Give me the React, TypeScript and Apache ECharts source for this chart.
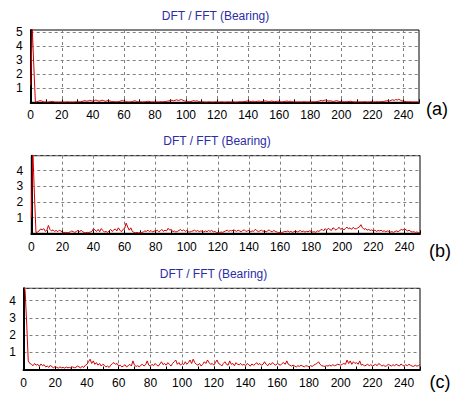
import React, { useEffect, useRef } from "react";
import * as echarts from "echarts";

const titleText = "DFT / FFT (Bearing)";
const panelLabels = ["(a)", "(b)", "(c)"];
const xTicks = [0, 20, 40, 60, 80, 100, 120, 140, 160, 180, 200, 220, 240];
const yTicksA = [1, 2, 3, 4, 5];
const yTicksB = [1, 2, 3, 4];
const yTicksC = [1, 2, 3, 4];

// amplitude per 1 Hz bin, 0..250
const ampA = [
  1.2, 5.3, 2.6, 0.02, 0.03, 0.08, 0.12, 0.1, 0.04, 0.02,
  0.02, 0.01, 0.03, 0.05, 0.07, 0.03, 0.01, 0.02, 0.01, 0.02,
  0.01, 0.02, 0.01, 0.02, 0.03, 0.01, 0.02, 0.01, 0.02, 0.03,
  0.02, 0.03, 0.04, 0.06, 0.09, 0.12, 0.08, 0.1, 0.14, 0.11,
  0.09, 0.13, 0.16, 0.12, 0.08, 0.11, 0.15, 0.12, 0.07, 0.1,
  0.13, 0.09, 0.06, 0.04, 0.05, 0.03, 0.04, 0.06, 0.1, 0.12,
  0.08, 0.04, 0.03, 0.02, 0.03, 0.05, 0.08, 0.11, 0.07, 0.03,
  0.02, 0.03, 0.02, 0.03, 0.04, 0.06, 0.08, 0.04, 0.02, 0.03,
  0.02, 0.03, 0.02, 0.03, 0.04, 0.03, 0.05, 0.06, 0.08, 0.1,
  0.12, 0.15, 0.11, 0.14, 0.18, 0.13, 0.16, 0.2, 0.14, 0.1,
  0.07, 0.05, 0.04, 0.06, 0.09, 0.12, 0.08, 0.11, 0.06, 0.03,
  0.02, 0.03, 0.02, 0.01, 0.02, 0.03, 0.02, 0.01, 0.02, 0.03,
  0.02, 0.01, 0.02, 0.03, 0.02, 0.01, 0.02, 0.03, 0.02, 0.02,
  0.03, 0.02, 0.01, 0.02, 0.03, 0.04, 0.03, 0.05, 0.06, 0.08,
  0.1, 0.07, 0.05, 0.08, 0.06, 0.04, 0.07, 0.09, 0.06, 0.05,
  0.07, 0.1, 0.08, 0.05, 0.06, 0.09, 0.07, 0.05, 0.06, 0.08,
  0.06, 0.04, 0.03, 0.05, 0.07, 0.09, 0.06, 0.08, 0.05, 0.03,
  0.02, 0.03, 0.02, 0.03, 0.02, 0.03, 0.04, 0.03, 0.02, 0.03,
  0.02, 0.03, 0.04, 0.03, 0.05, 0.07, 0.1, 0.13, 0.1, 0.14,
  0.16, 0.12, 0.09, 0.11, 0.08, 0.06, 0.09, 0.12, 0.08, 0.05,
  0.04, 0.03, 0.04, 0.03, 0.05, 0.06, 0.08, 0.05, 0.03, 0.02,
  0.03, 0.02, 0.03, 0.02, 0.03, 0.04, 0.03, 0.02, 0.03, 0.04,
  0.03, 0.02, 0.03, 0.04, 0.03, 0.04, 0.05, 0.06, 0.08, 0.1,
  0.12, 0.09, 0.14, 0.18, 0.13, 0.2, 0.16, 0.22, 0.15, 0.1,
  0.08, 0.06, 0.04, 0.03, 0.04, 0.03, 0.02, 0.03, 0.02, 0.03, 0.02,
];

const ampB = [
  1.0, 5.2, 2.5, 0.05, 0.08, 0.15, 0.28, 0.22, 0.3, 0.12,
  0.2, 0.5, 0.25, 0.15, 0.22, 0.12, 0.18, 0.1, 0.2, 0.15,
  0.08, 0.05, 0.06, 0.04, 0.05, 0.08, 0.15, 0.1, 0.06, 0.12,
  0.18, 0.08, 0.2, 0.1, 0.05, 0.04, 0.06, 0.05, 0.08, 0.12,
  0.3, 0.2, 0.12, 0.25, 0.1, 0.3, 0.18, 0.08, 0.12, 0.06,
  0.15, 0.25, 0.12, 0.2, 0.28, 0.15, 0.35, 0.2, 0.1, 0.25,
  0.3, 0.65, 0.4, 0.2, 0.35, 0.12, 0.06, 0.04, 0.05, 0.03,
  0.04, 0.05, 0.08, 0.15, 0.12, 0.2, 0.1, 0.18, 0.08, 0.15,
  0.12, 0.2, 0.1, 0.15, 0.25, 0.12, 0.2, 0.15, 0.32, 0.2,
  0.25, 0.1, 0.15, 0.08, 0.12, 0.18, 0.25, 0.15, 0.22, 0.12,
  0.18, 0.1, 0.08, 0.12, 0.15, 0.2, 0.12, 0.18, 0.1, 0.15,
  0.12, 0.08, 0.15, 0.1, 0.18, 0.12, 0.2, 0.08, 0.12, 0.06,
  0.05, 0.04, 0.08, 0.06, 0.1, 0.15, 0.2, 0.12, 0.18, 0.15,
  0.22, 0.18, 0.12, 0.2, 0.15, 0.1, 0.18, 0.22, 0.12, 0.15,
  0.2, 0.1, 0.15, 0.12, 0.25, 0.18, 0.1, 0.15, 0.2, 0.12,
  0.18, 0.08, 0.15, 0.22, 0.12, 0.1, 0.18, 0.12, 0.08, 0.05,
  0.06, 0.04, 0.08, 0.12, 0.1, 0.15, 0.08, 0.12, 0.06, 0.1,
  0.15, 0.08, 0.12, 0.18, 0.1, 0.14, 0.08, 0.12, 0.1, 0.15,
  0.12, 0.08, 0.1, 0.06, 0.15, 0.12, 0.2, 0.25, 0.15, 0.3,
  0.2, 0.32, 0.25, 0.18, 0.35, 0.28, 0.2, 0.3, 0.38, 0.25,
  0.32, 0.22, 0.3, 0.4, 0.28, 0.35, 0.25, 0.38, 0.3, 0.28,
  0.35, 0.4, 0.55, 0.35, 0.25, 0.3, 0.2, 0.25, 0.18, 0.22,
  0.15, 0.2, 0.12, 0.18, 0.15, 0.2, 0.12, 0.16, 0.1, 0.15,
  0.12, 0.08, 0.1, 0.06, 0.12, 0.15, 0.1, 0.18, 0.25, 0.2,
  0.28, 0.22, 0.15, 0.2, 0.12, 0.08, 0.1, 0.06, 0.08, 0.05, 0.04,
];

const ampC = [
  5.0, 4.6, 2.7, 0.5, 0.35, 0.3, 0.22, 0.35, 0.25, 0.3,
  0.18, 0.32, 0.22, 0.28, 0.15, 0.2, 0.12, 0.25, 0.15, 0.1,
  0.18, 0.12, 0.08, 0.15, 0.1, 0.12, 0.08, 0.14, 0.1, 0.12,
  0.08, 0.15, 0.1, 0.12, 0.2, 0.15, 0.1, 0.18, 0.12, 0.25,
  0.3, 0.45, 0.6, 0.35, 0.5, 0.3, 0.4, 0.25, 0.35, 0.2,
  0.3, 0.25, 0.15, 0.2, 0.12, 0.25, 0.35, 0.4, 0.3, 0.35,
  0.2, 0.25, 0.15, 0.2, 0.28, 0.15, 0.22, 0.3, 0.2, 0.5,
  0.25, 0.18, 0.22, 0.15, 0.25, 0.3, 0.2, 0.28, 0.5, 0.25,
  0.2, 0.3, 0.22, 0.35, 0.25, 0.2, 0.32, 0.45, 0.28, 0.35,
  0.25, 0.4, 0.3, 0.2, 0.35, 0.45, 0.55, 0.3, 0.4, 0.25,
  0.35, 0.28, 0.45, 0.3, 0.4, 0.55, 0.35, 0.6, 0.4, 0.3,
  0.25, 0.35, 0.2, 0.3, 0.45, 0.35, 0.55, 0.4, 0.3, 0.35,
  0.25, 0.4, 0.55, 0.35, 0.3, 0.2, 0.35, 0.45, 0.3, 0.25,
  0.5, 0.3, 0.35, 0.22, 0.4, 0.3, 0.28, 0.35, 0.25, 0.3,
  0.22, 0.35, 0.28, 0.2, 0.32, 0.25, 0.3, 0.4, 0.28, 0.35,
  0.25, 0.3, 0.45, 0.3, 0.22, 0.35, 0.28, 0.4, 0.3, 0.25,
  0.35, 0.3, 0.25, 0.35, 0.4, 0.3, 0.5, 0.3, 0.25, 0.2,
  0.25, 0.2, 0.15, 0.22, 0.18, 0.25, 0.2, 0.15, 0.22, 0.2,
  0.15, 0.22, 0.18, 0.25, 0.3, 0.35, 0.45, 0.3, 0.22, 0.2,
  0.18, 0.22, 0.2, 0.25, 0.2, 0.28, 0.22, 0.25, 0.3, 0.28,
  0.25, 0.3, 0.35, 0.3, 0.55, 0.35, 0.5, 0.3, 0.45, 0.35,
  0.4, 0.3, 0.5, 0.25, 0.3, 0.2, 0.25, 0.3, 0.22, 0.28,
  0.2, 0.25, 0.3, 0.22, 0.35, 0.28, 0.2, 0.25, 0.18, 0.22,
  0.3, 0.25, 0.2, 0.28, 0.22, 0.3, 0.25, 0.2, 0.32, 0.25,
  0.2, 0.28, 0.22, 0.3, 0.25, 0.2, 0.18, 0.25, 0.2, 0.22, 0.3,
];

const FONT = 'Arial, "Liberation Sans", sans-serif';

export default function App() {
  const ref = useRef<HTMLDivElement>(null);
  useEffect(() => {
    if (!ref.current) return;
    const chart = echarts.init(ref.current, null, { renderer: "svg" });

    const grids = [
      { left: 30.7, top: 30, width: 388.3, height: 72.3, ymax: 5.16, yt: yTicksA, xm: 7, ym: 8 },
      { left: 31.3, top: 155.7, width: 388.7, height: 77.6, ymax: 4.95, yt: yTicksB, xm: 8, ym: 8 },
      { left: 23.5, top: 288.3, width: 396.5, height: 81.2, ymax: 4.72, yt: yTicksC, xm: 7, ym: 7.5 },
    ];
    const amps = [ampA, ampB, ampC];
    const titlePos = [
      [215.5, 15.7],
      [217, 141],
      [213.5, 274],
    ];
    const labelPos = [
      [437, 109],
      [440, 251],
      [440, 382],
    ];

    chart.setOption({
      animation: false,
      backgroundColor: "#fff",
      grid: grids.map((g) => ({
        left: g.left,
        top: g.top,
        width: g.width,
        height: g.height,
        show: true,
        borderColor: "#000",
        borderWidth: 1,
        backgroundColor: "#fff",
      })),
      xAxis: grids.map((g, i) => ({
        type: "value",
        gridIndex: i,
        min: 0,
        max: 250,
        interval: 20,
        axisLine: { show: true, onZero: false, lineStyle: { color: "#000", width: 2 } },
        axisTick: { show: true, inside: true, length: 3, lineStyle: { color: "#000" } },
        minorTick: { show: true, splitNumber: 2, length: 3, lineStyle: { color: "#000" } },
        axisLabel: {
          margin: g.xm,
          color: "#000",
          fontFamily: FONT,
          fontSize: 12,
          formatter: (v: number) => (xTicks.includes(v) ? String(v) : ""),
        },
        splitLine: { show: true, lineStyle: { color: "#808080", type: [3, 3], width: 1 } },
      })),
      yAxis: grids.map((g, i) => ({
        type: "value",
        gridIndex: i,
        min: 0,
        max: g.ymax,
        interval: 1,
        axisLine: { show: true, onZero: false, lineStyle: { color: "#000", width: 2 } },
        axisTick: { show: false },
        axisLabel: {
          margin: g.ym,
          color: "#000",
          fontFamily: FONT,
          fontSize: 12,
          formatter: (v: number) => (g.yt.includes(v) ? String(v) : ""),
        },
        splitLine: { show: true, lineStyle: { color: "#808080", type: [3, 3], width: 1 } },
      })),
      series: amps.map((arr, i) => ({
        type: "line",
        xAxisIndex: i,
        yAxisIndex: i,
        data: arr.map((v, k) => [k, v]),
        showSymbol: false,
        symbol: "none",
        clip: true,
        lineStyle: { color: "#d00000", width: 1 },
      })),
      graphic: [
        ...titlePos.map((p) => ({
          type: "text",
          x: p[0],
          y: p[1],
          style: {
            text: titleText,
            font: `12px ${FONT}`,
            fill: "#2c2ca8",
            textAlign: "center",
            textVerticalAlign: "middle",
          },
        })),
        ...labelPos.map((p, i) => ({
          type: "text",
          x: p[0],
          y: p[1],
          style: {
            text: panelLabels[i],
            font: `18px ${FONT}`,
            fill: "#000",
            textAlign: "center",
            textVerticalAlign: "middle",
          },
        })),
      ],
    });
    return () => chart.dispose();
  }, []);
  return (
    <div
      ref={ref}
      style={{ position: "fixed", left: 0, top: 0, width: 453, height: 398 }}
    />
  );
}
